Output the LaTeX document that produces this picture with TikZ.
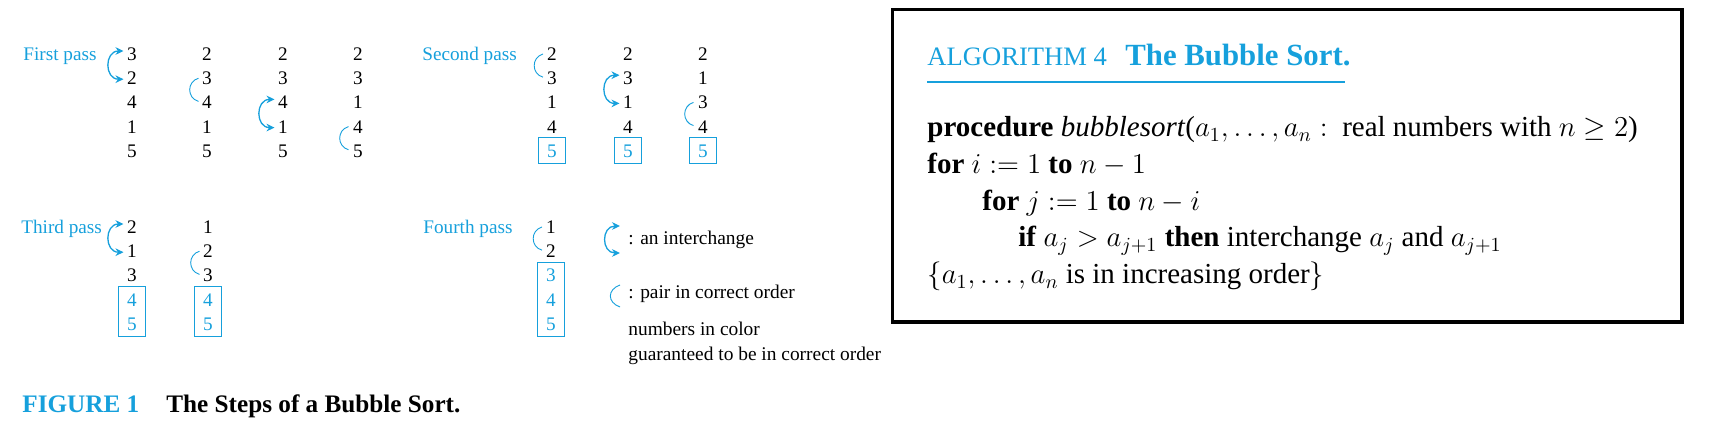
\documentclass[tikz,border=0pt]{standalone}
\usepackage{fontspec}
\setmainfont{Liberation Serif}
\setsansfont{Liberation Sans}
\usetikzlibrary{arrows.meta,fit,calc}
\definecolor{rcyan}{RGB}{22,160,220}
\tikzset{
  dig/.style={inner sep=0pt, text height=6.6pt, text depth=0pt, font=\fontsize{9.6}{11}\selectfont},
  passlabel/.style={anchor=base west, inner sep=0pt, text=rcyan, font=\fontsize{9.6}{11}\selectfont},
  legtext/.style={anchor=base west, inner sep=0pt, font=\fontsize{9.7}{11}\selectfont},
  swaparc/.style={draw=rcyan, line width=0.65pt, {Stealth[length=4pt,width=3.8pt]}-{Stealth[length=4pt,width=3.8pt]}},
  okarc/.style={draw=rcyan, line width=0.45pt},
  sortbox/.style={draw=rcyan, line width=0.5pt, inner xsep=4.35pt, inner ysep=3pt},
  algline/.style={anchor=base west, inner sep=0pt, font=\fontsize{14.5}{17}\selectfont},
  captext/.style={anchor=base west, inner sep=0pt, font=\fontsize{12.6}{14}\selectfont\bfseries},
}
\begin{document}
\begin{tikzpicture}[x=0.5pt,y=0.5pt]
\useasboundingbox (0,0) rectangle (1714,-432);

% ---------- First pass ----------
\node[passlabel] (l1) at (23,-60.6) {First pass};
\foreach \cx/\cv [count=\c] in {132/{3,2,4,1,5},207/{2,3,4,1,5},283/{2,3,4,1,5},358/{2,3,1,4,5}}
  \foreach \v [count=\r] in \cv
    \node[dig] (p1-\c-\r) at (\cx,{-54-24.2*(\r-1)}) {\v};

% ---------- Second pass ----------
\node[passlabel] (l2) at (422,-60.6) {Second pass};
\foreach \cx/\cv [count=\c] in {552/{2,3,1,4,5},628/{2,3,1,4,5},703/{2,1,3,4,5}}
  \foreach \v [count=\r] in \cv
    \node[dig] (p2-\c-\r) at (\cx,{-54-24.2*(\r-1)}) {\ifnum\r<5 \else\color{rcyan}\fi\v};

% ---------- Third pass ----------
\node[passlabel] (l3) at (21,-233.6) {Third pass};
\foreach \cx/\cv [count=\c] in {132/{2,1,3,4,5},208/{1,2,3,4,5}}
  \foreach \v [count=\r] in \cv
    \node[dig] (p3-\c-\r) at (\cx,{-227-24.2*(\r-1)}) {\ifnum\r<4 \else\color{rcyan}\fi\v};

% ---------- Fourth pass ----------
\node[passlabel] (l4) at (423,-233.6) {Fourth pass};
\foreach \v [count=\r] in {1,2,3,4,5}
  \node[dig] (p4-1-\r) at (551,{-227-24.2*(\r-1)}) {\ifnum\r<3 \else\color{rcyan}\fi\v};

% ---------- boxes ----------
\node[sortbox, fit=(p2-1-5)] (b21) {};
\node[sortbox, fit=(p2-2-5)] (b22) {};
\node[sortbox, fit=(p2-3-5)] (b23) {};
\node[sortbox, fit=(p3-1-4)(p3-1-5)] (b31) {};
\node[sortbox, fit=(p3-2-4)(p3-2-5)] (b32) {};
\node[sortbox, fit=(p4-1-3)(p4-1-5)] (b41) {};

% ---------- interchanges ----------
\draw[swaparc] ($(p1-1-1)+(-8.5,3)$) to[out=180,in=180,looseness=1.75] ($(p1-1-2)+(-8.5,-1)$);
\draw[swaparc] ($(p1-3-3)+(-8.5,3)$) to[out=180,in=180,looseness=1.75] ($(p1-3-4)+(-8.5,-1)$);
\draw[swaparc] ($(p2-2-2)+(-8.5,3)$) to[out=180,in=180,looseness=1.75] ($(p2-2-3)+(-8.5,-1)$);
\draw[swaparc] ($(p3-1-1)+(-8.5,3)$) to[out=180,in=180,looseness=1.75] ($(p3-1-2)+(-8.5,-1)$);

% ---------- pairs in order ----------
\draw[okarc] ($(p1-2-2)+(-8.5,0)$) to[out=196,in=164,looseness=1.35] ($(p1-2-3)+(-8.5,1)$);
\draw[okarc] ($(p1-4-4)+(-9.5,0)$) to[out=196,in=164,looseness=1.35] ($(p1-4-5)+(-9.5,1)$);
\draw[okarc] ($(p2-1-1)+(-9,0)$) to[out=196,in=164,looseness=1.35] ($(p2-1-2)+(-9,1)$);
\draw[okarc] ($(p2-3-3)+(-9.5,0)$) to[out=196,in=164,looseness=1.35] ($(p2-3-4)+(-9.5,1)$);
\draw[okarc] ($(p3-2-2)+(-8.5,0)$) to[out=196,in=164,looseness=1.35] ($(p3-2-3)+(-8.5,1)$);
\draw[okarc] ($(p4-1-1)+(-9,0)$) to[out=196,in=164,looseness=1.35] ($(p4-1-2)+(-9,1)$);

% ---------- legend ----------
\coordinate (li1) at (620,-226);
\coordinate (li2) at (620,-253);
\draw[swaparc] (li1) to[out=180,in=180,looseness=1.8] (li2);
\node[legtext] (t1) at (628,-245) {: an interchange};
\coordinate (lo1) at (620,-285);
\coordinate (lo2) at (620,-307);
\draw[okarc] (lo1) to[out=200,in=160,looseness=1.6] (lo2);
\node[legtext] (t2) at (628,-299) {: pair in correct order};
\node[legtext] (t3) at (628,-336) {numbers in color};
\node[legtext] (t4) at (628,-361) {guaranteed to be in correct order};

% ---------- caption ----------
\node[captext, text=rcyan] (fig) at (22,-412.5) {FIGURE 1};
\node[captext] (cap) at (166,-412.5) {The Steps of a Bubble Sort.};

% ---------- algorithm box ----------
\node[draw=black, line width=1.75pt, inner sep=0pt, minimum width=394.75pt, minimum height=156.25pt, anchor=north west] (algbox) at (890.5,-8) {};
\node[anchor=base west, inner sep=0pt, text=rcyan, font=\fontsize{13.3}{15}\selectfont] (algno) at (927,-66) {ALGORITHM 4};
\node[anchor=base west, inner sep=0pt, text=rcyan, font=\bfseries\fontsize{15.4}{17}\selectfont] (algname) at (1125,-66) {The Bubble Sort.};
\coordinate (ul1) at (927,-82);
\coordinate (ul2) at (1345,-82);
\draw[rcyan, line width=1.15pt] (ul1) -- (ul2);

\node[algline] (al1) at (927,-137) {\textbf{procedure} \textit{bubblesort}($a_1,\ldots,a_n :$\ \ real numbers with $n\geq 2$)};
\node[algline] (al2) at (927,-174) {\textbf{for} $i := 1$ \textbf{to} $n-1$};
\node[algline] (al3) at (982,-211) {\textbf{for} $j := 1$ \textbf{to} $n-i$};
\node[algline] (al4) at (1018,-247) {\textbf{if} $a_j > a_{j+1}$ \textbf{then} interchange $a_j$\ and $a_{j+1}$};
\node[algline] (al5) at (927,-284) {$\{a_1,\ldots,a_n$ is in increasing order$\}$};
\end{tikzpicture}
\end{document}
